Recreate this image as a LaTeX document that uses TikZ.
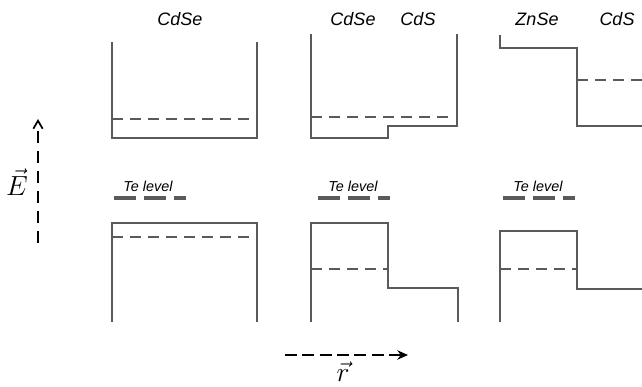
\documentclass[tikz,border=0pt]{standalone}
\usepackage{fontspec}
\setmainfont{Liberation Sans}
\usetikzlibrary{arrows.meta}
\definecolor{bandgray}{HTML}{5A5A5A}
\tikzset{
  band/.style={draw=bandgray, line width=1.1pt, line join=miter},
  level/.style={draw=bandgray, line width=1.1pt, dash pattern=on 8.5pt off 5pt},
  televel/.style={draw=bandgray, line width=2.3pt},
  mat/.style={font=\fontsize{13.5}{15}\selectfont\itshape, inner sep=0pt},
  telabel/.style={font=\fontsize{10.8}{12}\selectfont\itshape, inner sep=0pt},
  axis/.style={draw=black, line width=1.5pt},
  vecsym/.style={font=\fontsize{19.5}{21}\selectfont, inner sep=0pt},
}
\begin{document}
\begin{tikzpicture}[x=0.75pt, y=-0.75pt]
\useasboundingbox (0,0) rectangle (642,386);

% material labels
\node[mat] (m1) at (180,19) {CdSe};
\node[mat] (m2) at (353,19) {CdSe};
\node[mat] (m3) at (418,19) {CdS};
\node[mat] (m4) at (537,19) {ZnSe};
\node[mat] (m5) at (617,19) {CdS};

% conduction bands
\draw[band] (112,42) -- (112,138) -- (257,138) -- (257,42);
\draw[level] (112,119) -- (254,119);

\draw[band] (311,34) -- (311,138) -- (388,138) -- (388,126) -- (457,126) -- (457,34);
\draw[level] (311,117) -- (453,117);

\draw[band] (500,35) -- (500,48) -- (577,48) -- (577,126) -- (642,126);
\draw[level] (577,80) -- (642,80);

% Te levels
\foreach \x/\n in {148/t1, 353/t2, 538/t3} {
  \node[telabel] (\n) at (\x,186) {Te level};
}
\foreach \x in {114, 318, 503} {
  \draw[televel] (\x,198) -- ++(22,0);
  \draw[televel] (\x+30,198) -- ++(22,0);
  \draw[televel] (\x+60,198) -- ++(12,0);
}

% valence bands
\draw[band] (112,322) -- (112,223) -- (257,223) -- (257,322);
\draw[level] (112,237) -- (254,237);

\draw[band] (311,322) -- (311,223) -- (388,223) -- (388,288) -- (458,288) -- (458,322);
\draw[level] (311,269) -- (388,269);

\draw[band] (500,322) -- (500,231) -- (577,231) -- (577,289) -- (642,289);
\draw[level] (500,269) -- (577,269);

% field and radial axes
\coordinate (e0) at (38,243);
\coordinate (e1) at (38,119);
\draw[axis, dash pattern=on 9pt off 6pt, -{Straight Barb[length=6pt,width=7pt,line width=1.3pt]}] (e0) -- (e1);
\node[vecsym] (E) at (17,182) {$\vec{E}$};

\coordinate (r0) at (285,355);
\coordinate (r1) at (408,355);
\draw[axis, dash pattern=on 9pt off 4pt, -{Stealth[length=8pt,width=7pt]}] (r0) -- (r1);
\node[vecsym] (r) at (343,372) {$\vec{r}$};
\end{tikzpicture}
\end{document}
